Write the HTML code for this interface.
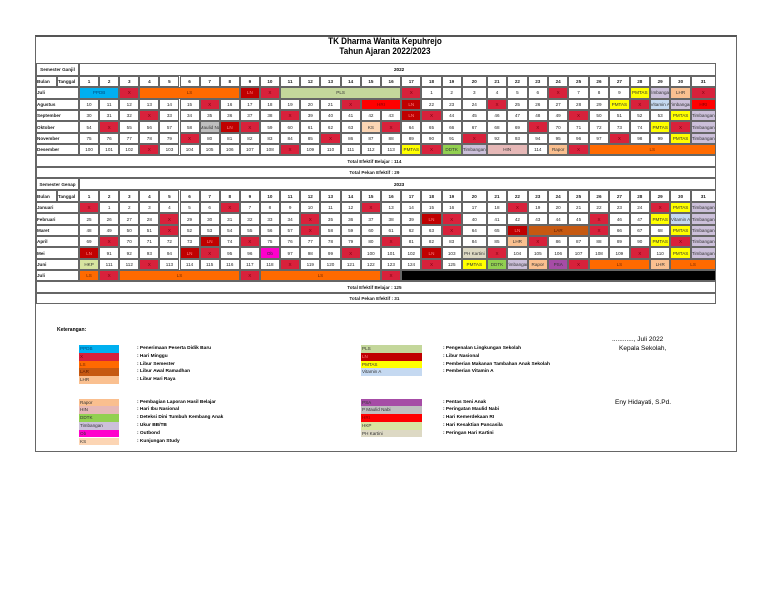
<!DOCTYPE html>
<html><head><meta charset="utf-8">
<style>
body{margin:0;width:768px;height:594px;background:#fff;position:relative;overflow:hidden;font-family:"Liberation Sans Narrow","Liberation Sans",sans-serif;}
.a{position:absolute;box-sizing:border-box;}
.c{position:absolute;box-sizing:border-box;border:0.6px solid #666;font-size:4.6px;display:flex;align-items:center;justify-content:center;white-space:nowrap;overflow:hidden;color:#222;}
.t{position:absolute;white-space:nowrap;}
</style></head><body>
<div class="a" style="left:35px;top:35px;width:702px;height:417px;border:1px solid #666;border-top:2px solid #555;"></div>
<div class="t" style="left:0;width:770px;text-align:center;top:37px;font-weight:bold;font-size:9.5px;line-height:10px;transform:scaleX(0.85);transform-origin:385px 0;">TK Dharma Wanita Kepuhrejo<br>Tahun Ajaran 2022/2023</div>
<div id="cal"></div>
<div id="leg"></div>
<div class="t" style="left:612px;top:336px;font-size:6.5px;font-family:'Liberation Sans',sans-serif;">............, Juli 2022</div>
<div class="t" style="left:619px;top:345px;font-size:6.5px;font-family:'Liberation Sans',sans-serif;">Kepala Sekolah,</div>
<div class="t" style="left:615px;top:399px;font-size:6.5px;font-family:'Liberation Sans',sans-serif;">Eny Hidayati, S.Pd.</div>
<script>
const colors={X:['#d8213b','#7a0010'],PPDB:['#00b0f0','#004d80'],LS:['#ff6a00','#7a2a00'],LN:['#c00000','#ff8080'],PLS:['#c4d79b','#333'],HRI:['#ff0000','#800000'],LHR:['#fac090','#333'],PMTAS:['#ffff00','#333'],Timbangan:['#ccc0da','#333'],'Vitamin A':['#c5d9f1','#333'],LAR:['#c65911','#5a1a00'],KS:['#fcd5b4','#333'],'P Maulid Nabi':['#bfbfbf','#333'],HIN:['#e6b8b7','#333'],DDTK:['#92d050','#333'],Rapor:['#fabf8f','#333'],PSA:['#a64ca6','#333'],Ob:['#ff00cc','#333'],HKP:['#d8e4a0','#333'],'PH Kartini':['#ddd9c4','#333'],BLK:['#000','#000']};
const months1=['Juli','Agustus','September','Oktober','November','Desember'];
const rows1=[
'PPDB*2|X|LS*5|LN|X|PLS*6|X|1|2|3|4|5|6|X|7|8|9|PMTAS|Timbangan|LHR|X',
'10|11|12|13|14|15|X|16|17|18|19|20|21|X|HRI*2|LN|22|23|24|X|25|26|27|28|29|PMTAS|X|Vitamin A|Timbangan|HRI',
'30|31|32|X|33|34|35|36|37|38|X|39|40|41|42|43|LN|X|44|45|46|47|48|49|X|50|51|52|53|PMTAS|Timbangan',
'54|X|55|56|57|58|P Maulid Nabi|LN|X|59|60|61|62|63|KS|X|64|65|66|67|68|69|X|70|71|72|73|74|PMTAS|X|Timbangan',
'75|76|77|78|79|X|80|81|82|83|84|85|X|86|87|88|89|90|91|X|92|93|94|95|96|97|X|98|99|PMTAS|Timbangan',
'100|101|102|X|103|104|105|106|107|108|X|109|110|111|112|113|PMTAS|X|DDTK|Timbangan|HIN*2|114|Rapor|X|LS*6'];
const months2=['Januari','Februari','Maret','April','Mei','Juni','Juli'];
const rows2=[
'X|1|2|3|4|5|6|X|7|8|9|10|11|12|X|13|14|15|16|17|18|X|19|20|21|22|23|24|X|PMTAS|Timbangan',
'25|26|27|28|X|29|30|31|32|33|34|X|35|36|37|38|39|LN|X|40|41|42|43|44|45|X|46|47|PMTAS|Vitamin A|Timbangan',
'48|49|50|51|X|52|53|54|55|56|57|X|58|59|60|61|62|63|X|64|65|LN|LAR*3|X|66|67|68|PMTAS|Timbangan',
'69|X|70|71|72|73|LN|74|X|75|76|77|78|79|80|X|81|82|83|84|85|LHR|X|86|87|88|89|90|PMTAS|X|Timbangan',
'LN|91|92|93|94|LN|X|95|96|Ob|97|98|99|X|100|101|102|LN|103|PH Kartini|X|104|105|106|107|108|109|X|110|PMTAS|Timbangan',
'HKP|111|112|X|113|114|115|116|117|118|X|119|120|121|122|123|124|X|125|PMTAS|DDTK|Timbangan|Rapor|PSA|X|LS*3|LHR|LS*2',
'LS|X|LS*6|X|LS*6|X|BLK*15'];
const totals1=['Total Efektif Belajar : 114','Total Pekan Efektif : 29'];
const totals2=['Total Efektif Belajar : 125','Total Pekan Efektif : 31'];
const cx=[79];
for(let d=1;d<=31;d++){let w=d<=10?20.1:d<=19?20.2:d===20?25:d<=30?20.4:25;cx.push(cx[d-1]+w);}
const L=36,R=cx[31];
const cal=document.getElementById('cal');
function cell(x,y,w,h,txt,bg,fg,name,extra){
 const e=document.createElement('div');e.className='c';
 e.style.left=x+'px';e.style.top=y+'px';e.style.width=w+'px';e.style.height=h+'px';
 if(bg)e.style.background=bg; if(fg)e.style.color=fg;
 if(extra)Object.assign(e.style,extra);
 e.textContent=txt;
 
 
 cal.appendChild(e);return e;}
function block(y0,label,year,months,rows,totals,pfx){
 const rh=11.35;
 cell(L,y0,43,12.4,label,null,null,pfx+'-semester-label',{fontWeight:'bold'});
 cell(79,y0,R-79,12.4,'',null,null,pfx+'-year-row');
 const yr=document.createElement('div');yr.className='t';yr.textContent=year;
 yr.style.cssText='left:394px;top:'+(y0+3.5)+'px;font-size:4.6px;font-weight:bold;';
 
 
 cal.appendChild(yr);
 const y1=y0+12.4;
 cell(L,y1,21,11.6,'Bulan',null,null,pfx+'-bulan-header',{justifyContent:'flex-start',fontWeight:'bold'});
 cell(57,y1,22,11.6,'Tanggal',null,null,pfx+'-tanggal-header',{justifyContent:'flex-start',fontWeight:'bold'});
 for(let d=1;d<=31;d++)cell(cx[d-1],y1,cx[d]-cx[d-1],11.6,String(d),null,null,pfx+'-day-header-'+d,{fontWeight:'bold'});
 let y=y1+11.6;
 months.forEach((m,i)=>{
  cell(L,y,43,rh,m,null,null,pfx+'-month-'+m.toLowerCase(),{justifyContent:'flex-start',fontWeight:'bold'});
  let col=0;
  rows[i].split('|').forEach(tok=>{
   let [k,s]=tok.split('*');s=+(s||1);
   const x=cx[col],w=cx[col+s]-cx[col];
   const cc=colors[k];
   cell(x,y,w,rh,cc?(k==='BLK'?'':k):k,cc?cc[0]:'#fff',cc?cc[1]:null,pfx+'-'+m.toLowerCase()+'-day-'+(col+1));
   col+=s;});
  y+=rh;});
 totals.forEach((t,i)=>{
  cell(L,y,R-L,11.3,t,null,null,pfx+'-total-'+(i+1),{fontWeight:'bold',paddingRight:'3px'});
  y+=11.3;});
}
block(63.3,'Semester Ganjil','2022',months1,rows1,totals1,'ganjil');
block(178,'Semester Genap','2023',months2,rows2,totals2,'genap');
const leg=document.getElementById('leg');
const legendCodes=[['PPDB','X','LS','LAR','LHR'],['Rapor','HIN','DDTK','Timbangan','Ob','KS'],['PLS','LN','PMTAS','Vitamin A'],['PSA','P Maulid Nabi','HRI','HKP','PH Kartini']];
const legendDesc=[[': Penerimaan Peserta Didik Baru',': Hari Minggu',': Libur Semester',': Libur Awal Ramadhan',': Libur Hari Raya'],[': Pembagian Laporan Hasil Belajar',': Hari Ibu Nasional',': Deteksi Dini Tumbuh Kembang Anak',': Ukur BB/TB',': Outbond',': Kunjungan Study'],[': Pengenalan Lingkungan Sekolah',': Libur Nasional',': Pemberian Makanan Tambahan Anak Sekolah',': Pemberian Vitamin A'],[': Pentas Seni Anak',': Peringatan Maulid Nabi',': Hari Kemerdekaan RI',': Hari Kesaktian Pancasila',': Peringan Hari Kartini']];
const gpos=[[79,345,137],[79,398.5,137],[361,345,443],[361,398.5,443]];
const k=document.createElement('div');k.className='t';k.textContent='Keterangan:';
k.style.cssText='left:57px;top:327px;font-size:5px;font-weight:bold;';


leg.appendChild(k);
legendCodes.forEach((g,gi)=>{
 const [sx,sy,dx]=gpos[gi];const sw=gi<2?40:61;
 g.forEach((code,i)=>{
  const s=document.createElement('div');s.className='a';
  s.style.cssText='left:'+sx+'px;top:'+(sy+i*7.8)+'px;width:'+sw+'px;height:7.8px;background:'+colors[code][0]+';font-size:4.6px;line-height:7.8px;color:'+colors[code][1]+';padding-left:1px;white-space:nowrap;overflow:hidden;';
  s.textContent=code;
  
  
  leg.appendChild(s);
  const d=document.createElement('div');d.className='t';
  d.style.cssText='left:'+dx+'px;top:'+(sy+i*7.8+1)+'px;font-size:4.8px;font-weight:bold;';
  d.textContent=legendDesc[gi][i];
  
  
  leg.appendChild(d);
 });});
</script>
</body></html>
